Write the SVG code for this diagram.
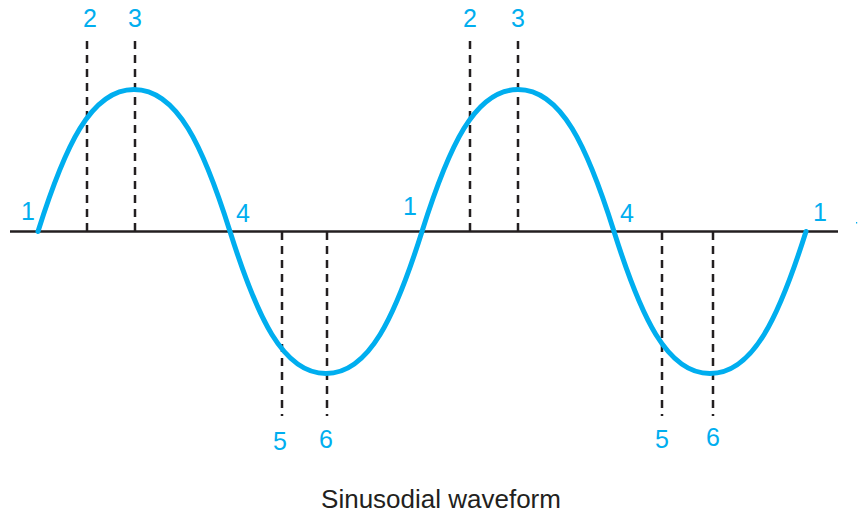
<svg xmlns="http://www.w3.org/2000/svg" width="858" height="513" viewBox="0 0 858 513">
<style>
.lbl{font-family:"Liberation Sans",Arial,sans-serif;font-size:25px;fill:#00aeef;text-anchor:middle}
.cap{font-family:"Liberation Sans",Arial,sans-serif;font-size:26px;fill:#231f20;text-anchor:middle}
.dash{stroke:#231f20;stroke-width:2.5;stroke-dasharray:8 6;fill:none}
.axis{stroke:#231f20;stroke-width:2.5;fill:none}
.wave{stroke:#00aeef;stroke-width:5;fill:none;stroke-linecap:round}
</style>
<rect width="858" height="513" fill="#ffffff"/>
<g id="axis">
<line class="axis" x1="10" y1="231.5" x2="838" y2="231.5"/>
</g>
<g id="connectors">
<line class="dash" x1="87" y1="41" x2="87" y2="231"/>
<line class="dash" x1="135" y1="41" x2="135" y2="231"/>
<line class="dash" x1="282" y1="232" x2="282" y2="416"/>
<line class="dash" x1="327" y1="232" x2="327" y2="416"/>
<line class="dash" x1="470" y1="41" x2="470" y2="231"/>
<line class="dash" x1="518" y1="41" x2="518" y2="231"/>
<line class="dash" x1="662" y1="232" x2="662" y2="416"/>
<line class="dash" x1="713" y1="232" x2="713" y2="416"/>
</g>
<g id="wave">
<path class="wave" d="M38 231.5 C64.9 146.3 90.8 89.5 134 89.5 C177.2 89.5 203.1 146.3 230 231.5 C256.9 316.7 282.8 373.5 326 373.5 C369.2 373.5 395.1 316.7 422 231.5 C448.9 146.3 474.8 89.5 518 89.5 C561.2 89.5 587.1 146.3 614 231.5 C640.9 316.7 666.8 373.5 710 373.5 C753.2 373.5 779.1 316.7 806 231.5"/>
</g>
<g id="labels">
<text class="lbl" x="28" y="220">1</text>
<text class="lbl" x="90" y="27">2</text>
<text class="lbl" x="135" y="27">3</text>
<text class="lbl" x="243" y="222">4</text>
<text class="lbl" x="280" y="450">5</text>
<text class="lbl" x="326" y="448">6</text>
<text class="lbl" x="410" y="215">1</text>
<text class="lbl" x="470" y="27">2</text>
<text class="lbl" x="518" y="27">3</text>
<text class="lbl" x="627" y="222">4</text>
<text class="lbl" x="662" y="448">5</text>
<text class="lbl" x="713" y="446">6</text>
<text class="lbl" x="820" y="221">1</text>
<rect x="856" y="222" width="1.2" height="1.5" fill="#00aeef"/>
</g>
<g id="caption">
<text class="cap" x="441" y="508">Sinusodial waveform</text>
</g>
</svg>
